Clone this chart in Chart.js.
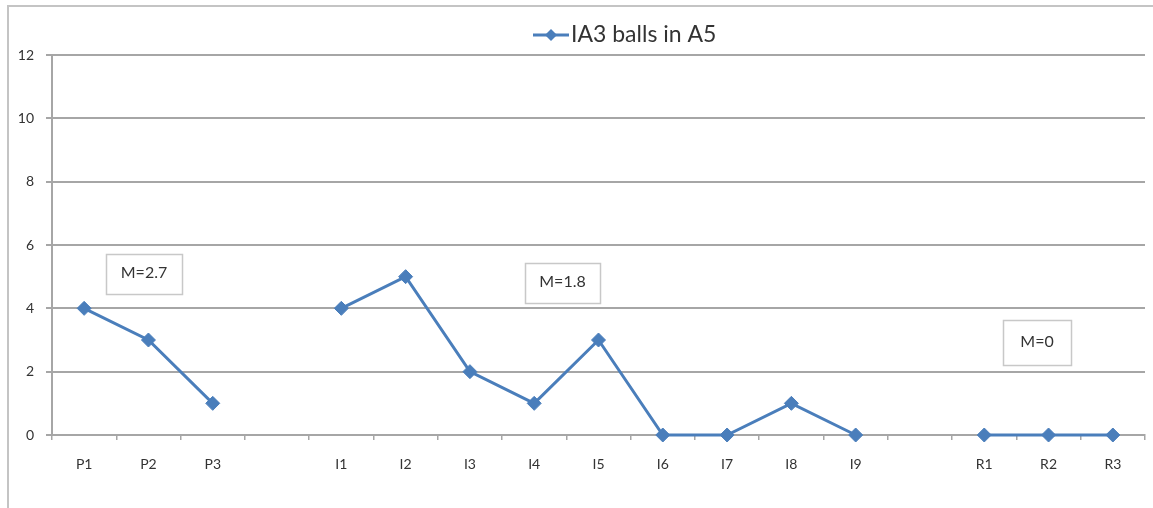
<!DOCTYPE html>
<html>
<head>
<meta charset="utf-8">
<script src="https://cdn.jsdelivr.net/npm/chart.js@4.4.1/dist/chart.umd.min.js"></script>
<style>
html,body{margin:0;padding:0;background:#fff;}
#wrap{width:1153px;height:508px;position:relative;}
</style>
</head>
<body>
<div id="wrap"><canvas id="c" width="1153" height="508"></canvas></div>
<script>
const categories = ["P1","P2","P3","","I1","I2","I3","I4","I5","I6","I7","I8","I9","","R1","R2","R3"];
const seriesName = "IA3 balls in A5";
const values = [4,3,1,null,4,5,2,1,3,0,0,1,0,null,0,0,0];
const yTicks = [0,2,4,6,8,10,12];
const meanLabels = ["M=2.7","M=1.8","M=0"];

const FONT = "Lato, 'Open Sans', sans-serif";
const BLUE = "#4a7ebb";
const GRID = "#a6a6a6";
const TEXT = "#333333";

const boxes = [
  {text: meanLabels[0], x: 106, y: 254, w: 76, h: 40},
  {text: meanLabels[1], x: 525, y: 263, w: 75, h: 40},
  {text: meanLabels[2], x: 1003, y: 320, w: 68, h: 45}
];

const decor = {
  id: 'decor',
  beforeDraw(chart) {
    const ctx = chart.ctx;
    ctx.save();
    ctx.strokeStyle = "#c4c4c4";
    ctx.lineWidth = 2;
    ctx.beginPath();
    ctx.moveTo(8, 508);
    ctx.lineTo(8, 6);
    ctx.lineTo(1153, 6);
    ctx.stroke();
    ctx.restore();
  },
  afterDraw(chart) {
    const ctx = chart.ctx;
    ctx.save();
    // legend
    const ly = 35;
    ctx.strokeStyle = BLUE;
    ctx.lineWidth = 3;
    ctx.beginPath();
    ctx.moveTo(533, ly); ctx.lineTo(569, ly); ctx.stroke();
    ctx.fillStyle = BLUE;
    ctx.beginPath();
    const cx = 551, r = 6;
    ctx.moveTo(cx, ly - r); ctx.lineTo(cx + r, ly); ctx.lineTo(cx, ly + r); ctx.lineTo(cx - r, ly); ctx.closePath();
    ctx.fill();
    ctx.fillStyle = TEXT;
    ctx.font = "23px " + FONT;
    ctx.textBaseline = "middle";
    ctx.textAlign = "left";
    ctx.fillText(seriesName, 571, ly);
    // mean boxes
    boxes.forEach(b => {
      ctx.fillStyle = "#fff";
      ctx.fillRect(b.x, b.y, b.w, b.h);
      ctx.strokeStyle = "#c8c8c8";
      ctx.lineWidth = 1.5;
      ctx.strokeRect(b.x + 0.5, b.y + 0.5, b.w, b.h);
      ctx.fillStyle = TEXT;
      ctx.font = "16px " + FONT;
      ctx.textAlign = "center";
      ctx.textBaseline = "middle";
      ctx.fillText(b.text, b.x + b.w / 2, b.y + b.h / 2 - 1);
    });
    ctx.restore();
  }
};

new Chart(document.getElementById('c'), {
  type: 'line',
  data: {
    labels: categories,
    datasets: [{
      label: seriesName,
      data: values,
      borderColor: BLUE,
      backgroundColor: BLUE,
      borderWidth: 3,
      pointStyle: 'rectRot',
      pointRadius: 7,
      pointHoverRadius: 7,
      pointBackgroundColor: BLUE,
      pointBorderColor: BLUE,
      pointBorderWidth: 1,
      spanGaps: false,
      tension: 0,
      clip: false
    }]
  },
  options: {
    responsive: false,
    animation: false,
    events: [],
    layout: {padding: {left: 8, top: 55, right: 5, bottom: 0}},
    plugins: {legend: {display: false}, tooltip: {enabled: false}},
    scales: {
      x: {
        offset: true,
        grid: {offset: true, drawOnChartArea: false, drawTicks: true, tickLength: 5, color: GRID, lineWidth: 1.5},
        border: {display: true, color: GRID, width: 2},
        ticks: {font: {family: FONT, size: 14}, color: TEXT, padding: 16, maxRotation: 0, autoSkip: false},
        afterFit(s) { s.height = 73; }
      },
      y: {
        min: 0, max: 12,
        afterBuildTicks(s) { s.ticks = yTicks.map(v => ({value: v})); },
        grid: {color: GRID, lineWidth: 2, tickLength: 6, drawTicks: true},
        border: {display: true, color: GRID, width: 2},
        ticks: {font: {family: FONT, size: 14}, color: TEXT, padding: 12},
        afterFit(s) { s.width = 44; }
      }
    }
  },
  plugins: [decor]
});
</script>
</body>
</html>
